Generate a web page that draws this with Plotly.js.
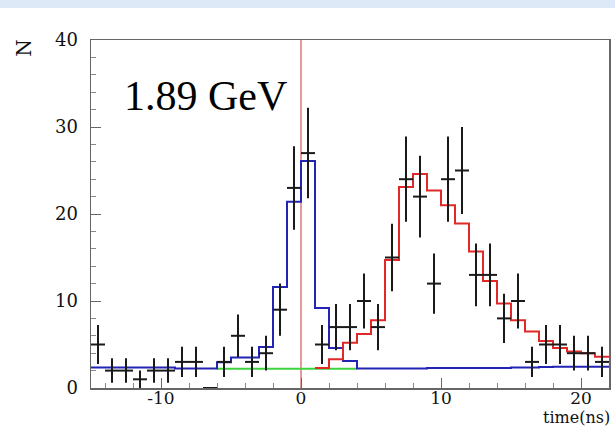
<!DOCTYPE html>
<html>
<head>
<meta charset="utf-8">
<script src="https://cdn.plot.ly/plotly-3.0.1.min.js"></script>
<style>html,body{margin:0;padding:0;background:#fff;}#chart{width:615px;height:428px;}</style>
</head>
<body>
<div id="chart"></div>
<script>
// Data points (bin centres, counts, errors)
const dataX = [-14.5,-13.5,-12.5,-11.5,-10.5,-9.5,-8.5,-7.5,-6.5,-5.5,-4.5,-3.5,-2.5,-1.5,-0.5,0.5,1.5,2.5,3.5,4.5,5.5,6.5,7.5,8.5,9.5,10.5,11.5,12.5,13.5,14.5,15.5,16.5,17.5,18.5,19.5,20.5,21.5];
const dataN = [5,2,2,1,2,2,3,3,0,3,6,3,4,9,23,27,5,7,7,10,7,15,24,22,12,24,25,13,13,8,10,3,5,5,4,4,3];
const dataErr = [2.24,1.41,1.41,1,1.41,1.41,1.73,1.73,0,1.73,2.45,1.73,2,3,4.8,5.2,2.24,2.65,2.65,3.16,2.65,3.87,4.9,4.69,3.46,4.9,5,3.61,3.61,2.83,3.16,1.73,2.24,2.24,2,2,1.73];
const binHalfWidth = [0.5];

// Blue histogram (prompt component): edges -15..22
const blueEdges = [-15,-14,-13,-12,-11,-10,-9,-8,-7,-6,-5,-4,-3,-2,-1,0,1,2,3,4,5,6,7,8,9,10,11,12,13,14,15,16,17,18,19,20,21,22];
const blueVals = [2.35,2.35,2.35,2.35,2.35,2.35,2.25,2.25,2.25,2.95,3.5,3.5,4.7,11.6,21.4,26.1,9.2,4.6,3.1,2.25,2.25,2.25,2.25,2.25,2.3,2.3,2.3,2.3,2.3,2.3,2.35,2.35,2.4,2.45,2.45,2.45,2.45];

// Red histogram (delayed component): edges 1..22
const redEdges = [1,2,3,4,5,6,7,8,9,10,11,12,13,14,15,16,17,18,19,20,21,22];
const redVals = [2.3,3.3,5.2,6.2,7.8,14.7,23.1,24.6,22.7,21.0,18.9,15.7,12.3,9.7,7.8,6.5,5.4,4.6,4.2,4.0,3.6];

// Green background: edges -6..4
const greenEdges = [-6,-5,-4,-3,-2,-1,0,1,2,3,4];
const greenVals = [2.2,2.2,2.2,2.2,2.2,2.2,2.2,2.2,2.2,2.2];

const xTickVals = [-10,0,10,20];
const xTickText = ['-10','0','10','20'];
const yTickVals = [0,10,20,30,40];
const yTickText = ['0','10','20','30','40'];

function stepY(vals){ return vals.concat([vals[vals.length-1]]); }

const traces = [
  {x: greenEdges, y: stepY(greenVals), mode:'lines', line:{shape:'hv', color:'#3fd23f', width:2}, hoverinfo:'skip'},
  {x: blueEdges, y: stepY(blueVals), mode:'lines', line:{shape:'hv', color:'#2424b4', width:2}, hoverinfo:'skip'},
  {x: redEdges, y: stepY(redVals), mode:'lines', line:{shape:'hv', color:'#e02828', width:2}, hoverinfo:'skip'},
  {x: dataX, y: dataN, mode:'markers', marker:{size:1, color:'#111'},
   error_y:{type:'data', array:dataErr, visible:true, color:'#1a1a1a', thickness:2, width:0},
   error_x:{type:'constant', value:binHalfWidth[0], visible:true, color:'#1a1a1a', thickness:2, width:0},
   hoverinfo:'skip'}
];

const layout = {
  width:615, height:428,
  margin:{l:91, r:6, t:40, b:40},
  paper_bgcolor:'#ffffff', plot_bgcolor:'#ffffff',
  showlegend:false,
  font:{family:'DejaVu Serif', size:18, color:'#111'},
  xaxis:{range:[-15,22], showgrid:false, zeroline:false, showline:true, mirror:true, linecolor:'#666', linewidth:1.5,
    tickmode:'array', tickvals:xTickVals, ticktext:xTickText, ticks:'inside', ticklen:10, tickcolor:'#666', tickwidth:1,
    ticklabelstandoff:-6,
    minor:{ticks:'inside', dtick:2, tick0:0, ticklen:5, tickcolor:'#888', showgrid:false},
    tickfont:{family:'DejaVu Serif', size:17, color:'#111'}},
  yaxis:{range:[0,40], showgrid:false, zeroline:false, showline:true, mirror:true, linecolor:'#666', linewidth:1.5,
    tickmode:'array', tickvals:yTickVals, ticktext:yTickText, ticks:'inside', ticklen:10, tickcolor:'#666', tickwidth:1,
    ticklabelstandoff:8,
    minor:{ticks:'inside', dtick:2, tick0:0, ticklen:5, tickcolor:'#888', showgrid:false},
    tickfont:{family:'DejaVu Serif', size:18, color:'#111'}},
  shapes:[
    {type:'rect', xref:'paper', yref:'paper', x0:-0.2, x1:1.02, y0:1+32/348, y1:1+40/348, fillcolor:'#dde9f6', line:{width:0}, layer:'below'},
    {type:'line', xref:'x', yref:'y', x0:0, x1:0, y0:0, y1:40, line:{color:'#e69a9a', width:2}, layer:'below'}
  ],
  annotations:[
    {text:'1.89 GeV', xref:'x', yref:'y', x:-6.8, y:33.6, xanchor:'center', yanchor:'middle', showarrow:false,
     font:{family:'Liberation Serif', size:42, color:'#000'}},
    {text:'N', xref:'paper', yref:'paper', x:-0.13, y:0.977, xanchor:'center', yanchor:'middle', showarrow:false, textangle:-90,
     font:{family:'DejaVu Serif', size:20, color:'#111'}},
    {text:'time(ns)', xref:'paper', yref:'paper', x:1.004, y:-0.115, xanchor:'right', yanchor:'bottom', showarrow:false,
     borderpad:0, font:{family:'DejaVu Serif', size:16, color:'#111'}}
  ]
};

Plotly.newPlot('chart', traces, layout, {displayModeBar:false, staticPlot:true});
</script>
</body>
</html>
